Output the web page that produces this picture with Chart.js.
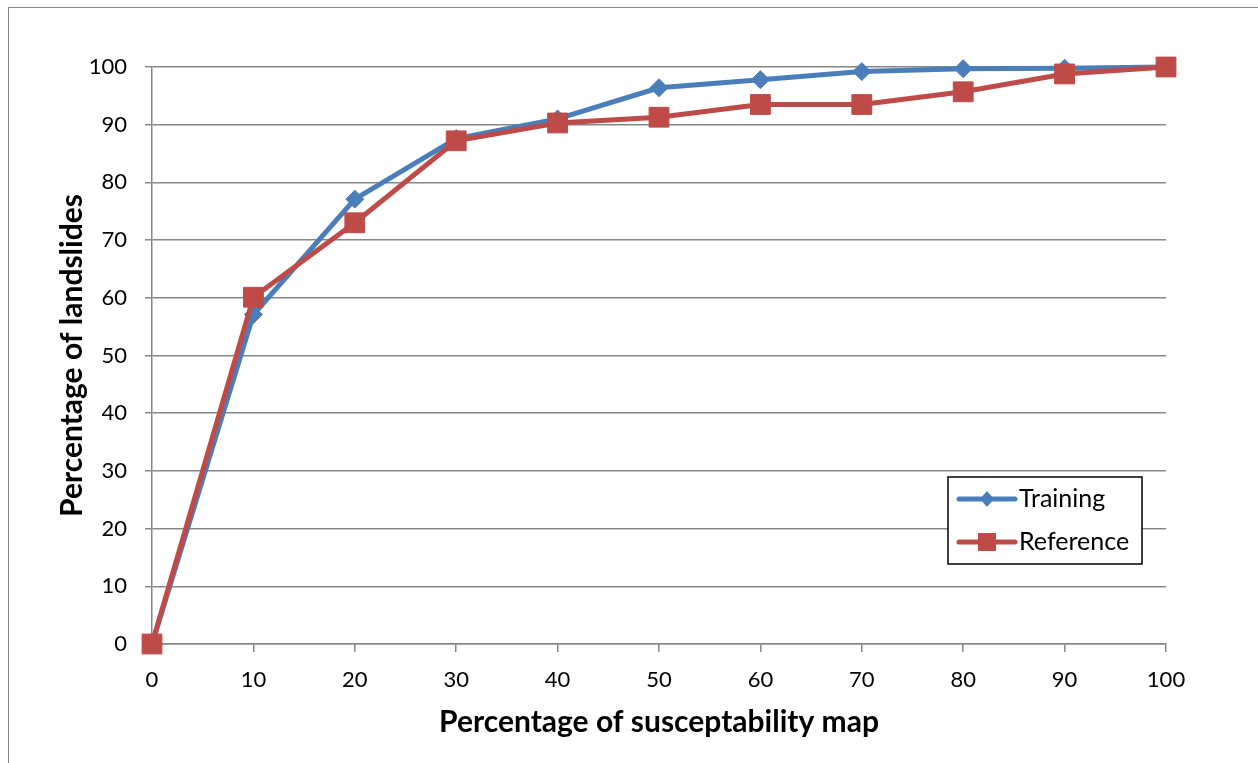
<!DOCTYPE html>
<html>
<head>
<meta charset="utf-8">
<script src="https://cdn.jsdelivr.net/npm/chart.js@4.4.1/dist/chart.umd.min.js"></script>
<style>
  html, body { margin: 0; padding: 0; background: #fff; overflow: hidden; }
  #frame { position: absolute; left: 8px; top: 7px; width: 1300px; height: 800px; border: 1.5px solid #868686; box-sizing: border-box; }
  #roc { position: absolute; left: 0; top: 0; }
</style>
</head>
<body>
<div id="frame"></div>
<canvas id="roc" width="1258" height="763"></canvas>
<script>
/* success-rate curves: cumulative landslides vs. susceptibility map area */
var MAP_PCT = [0, 10, 20, 30, 40, 50, 60, 70, 80, 90, 100];
var TRAINING = [0, 57.1, 77.1, 87.6, 91.0, 96.4, 97.8, 99.2, 99.7, 99.8, 100];
var REFERENCE = [0, 60.1, 73.0, 87.2, 90.3, 91.3, 93.5, 93.5, 95.7, 98.8, 100];
var SERIES_NAMES = ['Training', 'Reference'];

var BLUE = '#4a7ebb';
var RED = '#be4b48';
var GRID = '#868686';
var FONT = 'Lato, "Open Sans", sans-serif';

function pts(ys) {
  return MAP_PCT.map(function (x, i) { return { x: x, y: ys[i] }; });
}

/* boxed legend inside the plot, lower right */
var boxLegend = {
  id: 'boxLegend',
  afterDraw: function (chart) {
    var ctx = chart.ctx;
    var a = chart.chartArea;
    var x0 = a.right - 218, y0 = a.top + 410, w = 194, h = 87;
    ctx.save();
    ctx.fillStyle = '#fff';
    ctx.fillRect(x0, y0, w, h);
    ctx.strokeStyle = '#000';
    ctx.lineWidth = 1.5;
    ctx.strokeRect(x0, y0, w, h);
    ctx.font = '25px ' + FONT;
    ctx.textBaseline = 'middle';
    ctx.textAlign = 'left';
    var rows = [
      { name: SERIES_NAMES[0], color: BLUE, shape: 'diamond', y: y0 + 22 },
      { name: SERIES_NAMES[1], color: RED, shape: 'square', y: y0 + 65 }
    ];
    rows.forEach(function (r) {
      var sx = x0 + 11, ex = x0 + 67, cx = (sx + ex) / 2;
      ctx.strokeStyle = r.color;
      ctx.lineWidth = 5;
      ctx.lineCap = 'round';
      ctx.beginPath(); ctx.moveTo(sx, r.y); ctx.lineTo(ex, r.y); ctx.stroke();
      ctx.fillStyle = r.color;
      if (r.shape === 'diamond') {
        ctx.beginPath();
        ctx.moveTo(cx, r.y - 8); ctx.lineTo(cx + 7, r.y); ctx.lineTo(cx, r.y + 8); ctx.lineTo(cx - 7, r.y);
        ctx.closePath(); ctx.fill();
      } else {
        ctx.fillRect(cx - 9, r.y - 9, 18, 18);
      }
      ctx.fillStyle = '#000';
      ctx.fillText(r.name, ex + 4, r.y);
    });
    ctx.restore();
  }
};

new Chart(document.getElementById('roc'), {
  type: 'line',
  data: {
    datasets: [
      { label: SERIES_NAMES[0], data: pts(TRAINING), borderColor: BLUE, backgroundColor: BLUE, borderWidth: 5,
        pointStyle: 'rectRot', pointRadius: 9, pointBorderWidth: 1, pointBorderColor: BLUE, tension: 0, clip: false, order: 2 },
      { label: SERIES_NAMES[1], data: pts(REFERENCE), borderColor: RED, backgroundColor: RED, borderWidth: 5,
        pointStyle: 'rect', pointRadius: 14, pointBorderWidth: 1, pointBorderColor: RED, tension: 0, clip: false, order: 1 }
    ]
  },
  options: {
    responsive: false,
    animation: false,
    devicePixelRatio: 1,
    layout: { padding: { top: 67, right: 92, left: 0, bottom: 0 } },
    plugins: { legend: { display: false }, tooltip: { enabled: false } },
    scales: {
      x: {
        type: 'linear', min: 0, max: 100,
        ticks: { stepSize: 10, padding: 15, color: '#000', font: { family: FONT, size: 22 } },
        grid: { drawOnChartArea: false, drawTicks: true, tickLength: 8, color: GRID, lineWidth: 1.5 },
        border: { display: true, color: GRID, width: 1.5 },
        title: { display: true, text: 'Percentage of susceptability map', color: '#000',
          font: { family: FONT, size: 30, weight: 'bold' }, padding: { top: 23, bottom: 23 } },
        afterFit: function (s) { s.height = 119; }
      },
      y: {
        min: 0, max: 100,
        ticks: { stepSize: 10, padding: 18, color: '#000', font: { family: FONT, size: 22 } },
        grid: { color: GRID, lineWidth: 1.5, tickLength: 7 },
        border: { display: true, color: GRID, width: 1.5 },
        title: { display: true, text: 'Percentage of landslides', color: '#000',
          font: { family: FONT, size: 30, weight: 'bold' }, padding: { top: 54, bottom: 0 } },
        afterFit: function (s) { s.width = 152; }
      }
    }
  },
  plugins: [boxLegend]
});
</script>
</body>
</html>
